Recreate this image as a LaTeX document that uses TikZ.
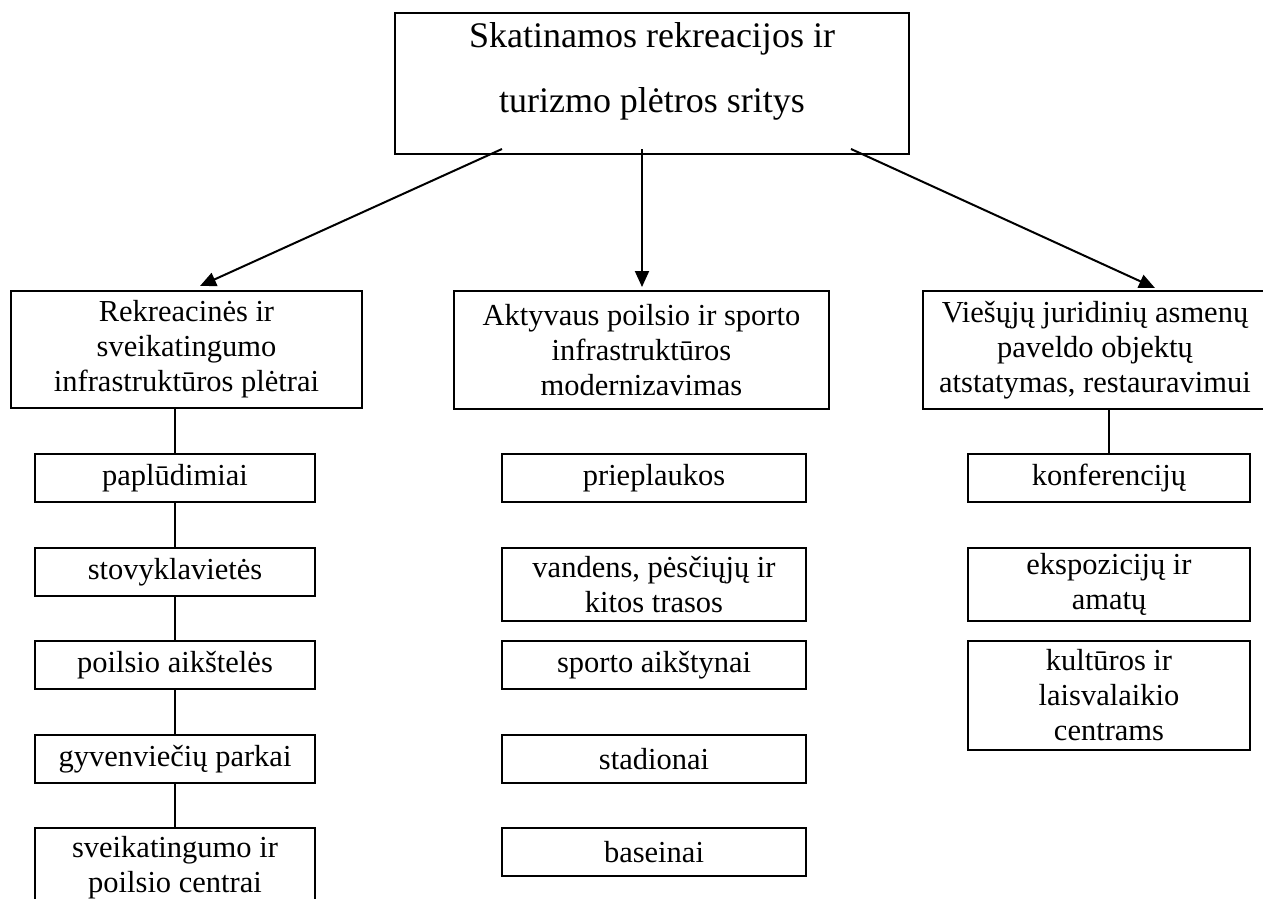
\documentclass[tikz,border=0pt]{standalone}
\usepackage{fontspec}
\setmainfont{Liberation Serif}
\usetikzlibrary{arrows.meta,calc}
\begin{document}
\begin{tikzpicture}[x=1pt,y=-1pt,
  box/.style={draw,line width=2pt,inner sep=0pt,align=center,
    font=\fontsize{30.5pt}{35pt}\selectfont},
  conn/.style={line width=2pt},
  arr/.style={line width=2pt,-{Triangle[length=16pt,width=14pt]}}]
\useasboundingbox (0,0) rectangle (1263,898);
\fill[white] (0,0) rectangle (1263,898);
% top
\node[draw,line width=2pt,minimum width=514pt,minimum height=141pt,inner sep=0pt] (top) at (652,83.5) {};
\node[align=center,inner sep=0pt,font=\fontsize{36pt}{65pt}\selectfont] (toptext) at (652,71) {Skatinamos rekreacijos ir\\turizmo plėtros sritys};
% second level
\node[box,minimum width=351pt,minimum height=117pt] (b1) at (186.5,349.5) {Rekreacinės ir\\sveikatingumo\\infrastruktūros plėtrai};
\node[box,minimum width=375pt,minimum height=118pt] (b2) at (641.5,350) {Aktyvaus poilsio ir sporto\\infrastruktūros\\modernizavimas};
\node[box,minimum width=344pt,minimum height=118pt] (b3) at (1095,350) {Viešųjų juridinių asmenų\\paveldo objektų\\atstatymas, restauravimui};
% left column
\node[box,minimum width=280pt,minimum height=48pt] (l1) at (175,478) {paplūdimiai};
\node[box,minimum width=280pt,minimum height=48pt] (l2) at (175,572) {stovyklavietės};
\node[box,minimum width=280pt,minimum height=48pt] (l3) at (175,665) {poilsio aikštelės};
\node[box,minimum width=280pt,minimum height=48pt] (l4) at (175,759) {gyvenviečių parkai};
\node[box,minimum width=280pt,minimum height=80pt] (l5) at (175,868) {sveikatingumo ir\\poilsio centrai};
% middle column
\node[box,minimum width=304pt,minimum height=48pt] (m1) at (654,478) {prieplaukos};
\node[box,minimum width=304pt,minimum height=73pt] (m2) at (654,584.5) {vandens, pėsčiųjų ir\\kitos trasos};
\node[box,minimum width=304pt,minimum height=48pt] (m3) at (654,665) {sporto aikštynai};
\node[box,minimum width=304pt,minimum height=48pt] (m4) at (654,759) {stadionai};
\node[box,minimum width=304pt,minimum height=48pt] (m5) at (654,852) {baseinai};
% right column
\node[box,minimum width=282pt,minimum height=48pt] (r1) at (1109,478) {konferencijų};
\node[box,minimum width=282pt,minimum height=73pt] (r2) at (1109,584.5) {ekspozicijų ir\\amatų};
\node[box,minimum width=282pt,minimum height=109pt] (r3) at (1109,695.5) {kultūros ir\\laisvalaikio\\centrams};
% arrows
\draw[arr] ($(top.south west)+(108,-6)$) -- ($(b1.north)+(13.5,-4)$);
\draw[arr] ($(top.south)+(-10,-6)$) -- ($(b2.north)+(0.5,-3)$);
\draw[arr] ($(top.south west)+(457,-6)$) -- ($(b3.north)+(60,-2)$);
% connectors
\draw[conn] (l1.north |- b1.south) -- (l1.north);
\draw[conn] (l1.south) -- (l2.north);
\draw[conn] (l2.south) -- (l3.north);
\draw[conn] (l3.south) -- (l4.north);
\draw[conn] (l4.south) -- (l5.north);
\draw[conn] (r1.north |- b3.south) -- (r1.north);
\end{tikzpicture}
\end{document}
